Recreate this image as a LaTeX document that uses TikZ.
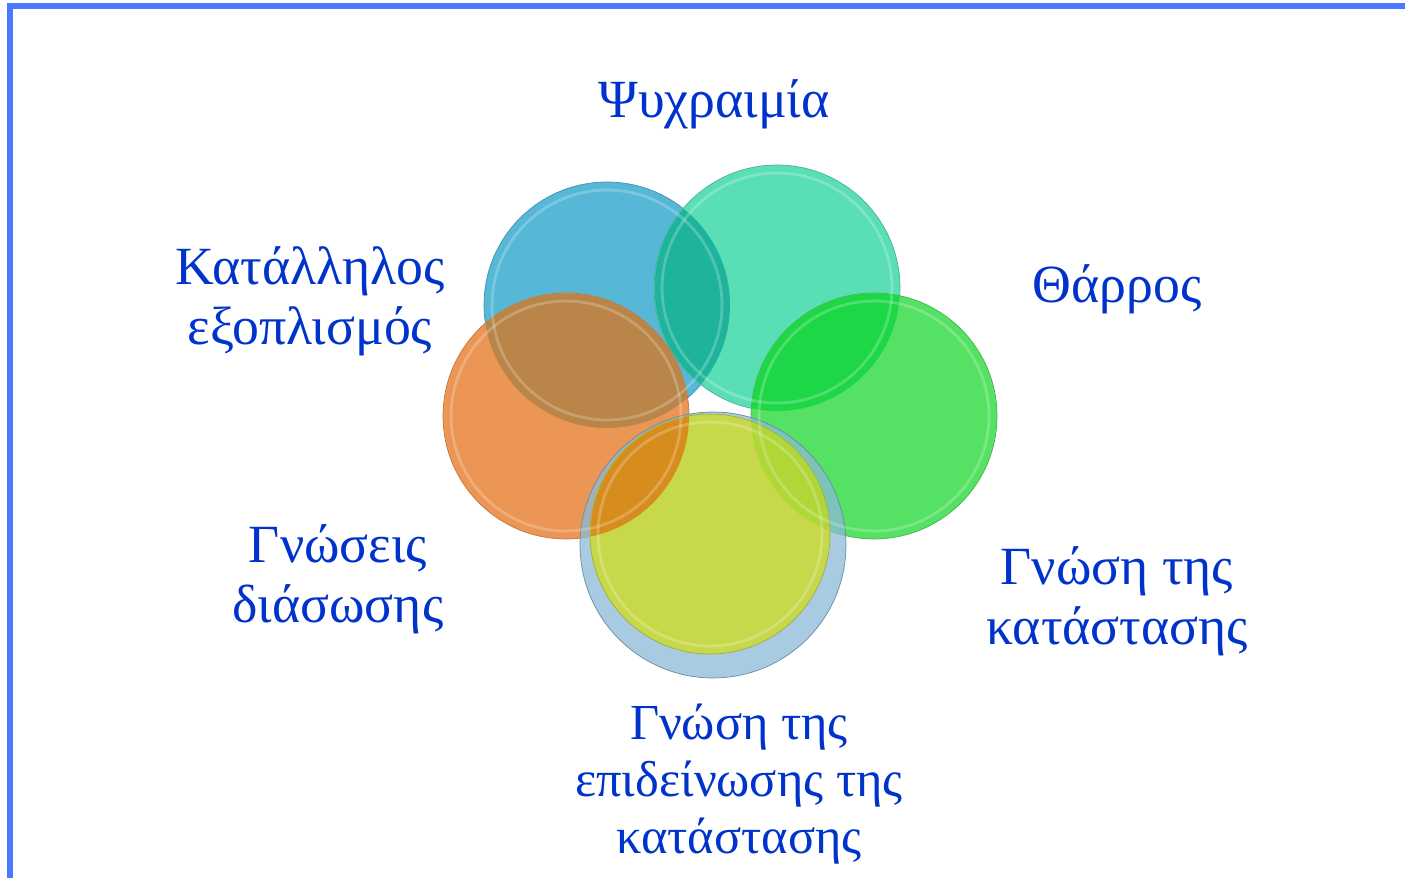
\documentclass[tikz,border=0pt]{standalone}
\usepackage{fontspec}
\setmainfont{Liberation Serif}

\definecolor{framec}{RGB}{74,120,255}
\definecolor{txtc}{RGB}{0,51,204}
\definecolor{cblue}{RGB}{86,184,214}
\definecolor{cteal}{RGB}{90,222,182}
\definecolor{cgreen}{RGB}{85,225,100}
\definecolor{corange}{RGB}{235,150,85}
\definecolor{cyellow}{RGB}{200,216,75}
\definecolor{cring}{RGB}{140,185,215}
\definecolor{obt}{RGB}{30,180,155}
\definecolor{otg}{RGB}{30,215,70}
\definecolor{obo}{RGB}{185,133,72}
\definecolor{ooy}{RGB}{215,140,30}
\definecolor{ogy}{RGB}{175,215,55}

\tikzset{
  lbl/.style={text=txtc, align=center, anchor=base, inner sep=0pt,
    font=\fontsize{30.6}{34}\selectfont},
  disc/.style={circle, inner sep=0pt, minimum size=4.92cm, fill=#1,
    draw=#1!80!black, line width=.4pt},
  rim/.style={white, opacity=.22, line width=1.6pt},
}

\begin{document}
\begin{tikzpicture}[x=0.02cm,y=-0.02cm]
	\useasboundingbox (0,0) rectangle (1405,878);
	\draw[framec, line width=2.9pt] (10,878) -- (10,6) -- (1405,6);

	\node[disc=cblue] (A) at (607,305) {};
	\node[disc=cteal] (B) at (777,288) {};
	\begin{scope}
		\clip (A.center) circle (2.46cm);
		\fill[obt] (B.center) circle (2.45cm);
	\end{scope}
	\node[disc=cgreen] (C) at (874,416) {};
	\begin{scope}
		\clip (B.center) circle (2.46cm);
		\fill[otg] (C.center) circle (2.45cm);
	\end{scope}
	\node[disc=corange] (D) at (566,416) {};
	\begin{scope}
		\clip (A.center) circle (2.46cm);
		\fill[obo] (D.center) circle (2.45cm);
	\end{scope}

	\node[circle, inner sep=0pt, minimum size=5.32cm, fill=cring, fill opacity=.75,
		draw=cring!75!black, line width=.4pt] (R) at (713,545) {};
	\node[disc=cyellow, minimum size=4.8cm] (E) at (710,534) {};
	\begin{scope}
		\clip (D.center) circle (2.46cm);
		\fill[ooy] (E.center) circle (2.39cm);
	\end{scope}
	\begin{scope}
		\clip (C.center) circle (2.46cm);
		\fill[ogy] (E.center) circle (2.39cm);
	\end{scope}

	\draw[rim] (A.center) circle (2.3cm);
	\draw[rim] (B.center) circle (2.3cm);
	\draw[rim] (C.center) circle (2.3cm);
	\draw[rim] (D.center) circle (2.3cm);
	\draw[rim] (E.center) circle (2.24cm);

	\node[lbl] (a) at (714,118) {Ψυχραιμία};
	\node[lbl] (b) at (1117,302) {Θάρρος};
	\node[lbl] (c) at (1117,644) {Γνώση της\\κατάστασης};
	\node[lbl, font=\fontsize{28.7}{32.4}\selectfont] (d) at (739,853) {Γνώση της\\επιδείνωσης της\\κατάστασης};
	\node[lbl] (e) at (338,622) {Γνώσεις\\διάσωσης};
	\node[lbl] (f) at (310,344) {Κατάλληλος\\εξοπλισμός};
\end{tikzpicture}
\end{document}
